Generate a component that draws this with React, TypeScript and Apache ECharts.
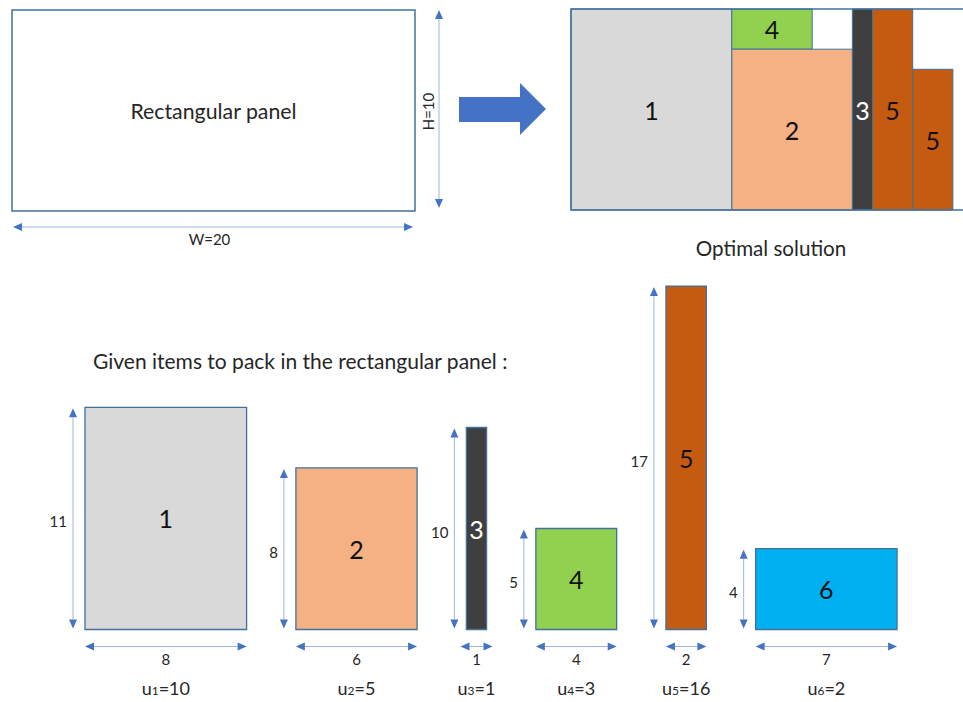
import React, { useEffect, useRef } from "react";
import * as echarts from "echarts";

// Panel
const PANEL_W = 20;
const PANEL_H = 10;
const panelTitle = "Rectangular panel";
const solutionTitle = "Optimal solution";
const itemsTitle = "Given items to pack in the rectangular panel :";

// Items to pack
const itemIds = ["1", "2", "3", "4", "5", "6"];
const itemWidths = [8, 6, 1, 4, 2, 7];
const itemHeights = [11, 8, 10, 5, 17, 4];
const itemValues = [10, 5, 1, 3, 16, 2];
const itemColors = ["#D9D9D9", "#F4B183", "#3F3F3F", "#92D050", "#C55A11", "#00B0F0"];
const itemLabelColors = ["#111111", "#111111", "#FFFFFF", "#111111", "#111111", "#111111"];

// Optimal solution placement (panel units, origin at top-left)
const solItem = [0, 3, 1, 2, 4, 4];
const solX = [0, 8, 8, 14, 15, 17];
const solY = [0, 0, 2, 0, 0, 3];
const solW = [8, 4, 6, 1, 2, 2];
const solH = [10, 2, 8, 10, 10, 7];

const FONT = "Lato, 'Open Sans', sans-serif";
const BORDER = "#41719C";
const ARROW_LINE = "#9DB5DF";
const ARROW_HEAD = "#4472C4";
const TEXT = "#262626";

function vArrow(x: number, y1: number, y2: number) {
  const hw = 4, hl = 9;
  return [
    { type: "line", shape: { x1: x, y1: y1 + hl, x2: x, y2: y2 - hl }, style: { stroke: ARROW_LINE, lineWidth: 1 } },
    { type: "polygon", shape: { points: [[x, y1], [x - hw, y1 + hl], [x + hw, y1 + hl]] }, style: { fill: ARROW_HEAD } },
    { type: "polygon", shape: { points: [[x, y2], [x - hw, y2 - hl], [x + hw, y2 - hl]] }, style: { fill: ARROW_HEAD } },
  ];
}
function hArrow(y: number, x1: number, x2: number) {
  const hw = 4, hl = 9;
  return [
    { type: "line", shape: { x1: x1 + hl, y1: y, x2: x2 - hl, y2: y }, style: { stroke: ARROW_LINE, lineWidth: 1 } },
    { type: "polygon", shape: { points: [[x1, y], [x1 + hl, y - hw], [x1 + hl, y + hw]] }, style: { fill: ARROW_HEAD } },
    { type: "polygon", shape: { points: [[x2, y], [x2 - hl, y - hw], [x2 - hl, y + hw]] }, style: { fill: ARROW_HEAD } },
  ];
}
function txt(x: number, y: number, text: string, size: number, fill = TEXT, extra: any = {}) {
  return {
    type: "text",
    x,
    y,
    ...extra,
    style: { text, fill, fontSize: size, fontFamily: FONT, align: "center", verticalAlign: "middle" },
  };
}

export default function App() {
  const ref = useRef<HTMLDivElement>(null);
  useEffect(() => {
    document.body.style.margin = "0";
    const chart = echarts.init(ref.current!, null, { renderer: "svg" });

    // bottom row layout: cumulative x positions with constant gap (units)
    const GAP = 2.44;
    const itemX: number[] = [];
    let acc = 0;
    itemWidths.forEach((w) => {
      itemX.push(acc);
      acc += w + GAP;
    });
    const UNIT = 20.2;
    const rowMax = 41;
    const rowTopUnits = 17;
    const SOL_UNIT = 20.1;
    const solVisible = 19.5; // panel is cut at the right edge of the picture

    const option: any = {
      animation: false,
      backgroundColor: "#ffffff",
      grid: [
        { left: 12, top: 10, width: 403, height: 201, show: false },
        { left: 571, top: 9, width: solVisible * SOL_UNIT, height: PANEL_H * SOL_UNIT, show: false },
        { left: 85, top: 629.5 - rowTopUnits * UNIT, width: rowMax * UNIT, height: rowTopUnits * UNIT, show: false },
      ],
      xAxis: [
        { type: "value", gridIndex: 0, min: 0, max: PANEL_W, show: false },
        { type: "value", gridIndex: 1, min: 0, max: solVisible, show: false },
        { type: "value", gridIndex: 2, min: 0, max: rowMax, show: false },
      ],
      yAxis: [
        { type: "value", gridIndex: 0, min: 0, max: PANEL_H, inverse: true, show: false },
        { type: "value", gridIndex: 1, min: 0, max: PANEL_H, inverse: true, show: false },
        { type: "value", gridIndex: 2, min: 0, max: rowTopUnits, show: false },
      ],
      series: [
        {
          type: "custom",
          xAxisIndex: 0,
          yAxisIndex: 0,
          clip: false,
          data: [[0, 0, PANEL_W, PANEL_H]],
          renderItem: (params: any, api: any) => {
            const p0 = api.coord([api.value(0), api.value(1)]);
            const p1 = api.coord([api.value(2), api.value(3)]);
            const cx = (p0[0] + p1[0]) / 2;
            const cy = (p0[1] + p1[1]) / 2;
            return {
              type: "group",
              children: [
                { type: "rect", shape: { x: p0[0], y: p0[1], width: p1[0] - p0[0], height: p1[1] - p0[1] }, style: { fill: "#fff", stroke: BORDER, lineWidth: 1.5 } },
                txt(cx, cy, panelTitle, 21.3),
                ...vArrow(p1[0] + 24, p0[1], p1[1] - 3),
                txt(p1[0] + 13, cy + 1, `H=${api.value(3)}`, 15, TEXT, { rotation: Math.PI / 2 }),
                ...hArrow(p1[1] + 16, p0[0] + 1, p1[0] - 2),
                txt(cx - 4, p1[1] + 28, `W=${api.value(2)}`, 15),
              ],
            };
          },
        },
        {
          type: "custom",
          xAxisIndex: 1,
          yAxisIndex: 1,
          clip: false,
          data: solItem.map((it, i) => [solX[i], solY[i], solW[i], solH[i], it]),
          renderItem: (params: any, api: any) => {
            const it = api.value(4);
            const p0 = api.coord([api.value(0), api.value(1)]);
            const p1 = api.coord([api.value(0) + api.value(2), api.value(1) + api.value(3)]);
            return {
              type: "group",
              children: [
                { type: "rect", shape: { x: p0[0], y: p0[1], width: p1[0] - p0[0], height: p1[1] - p0[1] }, style: { fill: itemColors[it], stroke: BORDER, lineWidth: 1 } },
                txt((p0[0] + p1[0]) / 2, (p0[1] + p1[1]) / 2, itemIds[it], 25, itemLabelColors[it]),
              ],
            };
          },
        },
        {
          type: "custom",
          xAxisIndex: 1,
          yAxisIndex: 1,
          clip: false,
          data: [[0, 0, PANEL_W, PANEL_H]],
          renderItem: (params: any, api: any) => {
            const p0 = api.coord([api.value(0), api.value(1)]);
            const p1 = api.coord([api.value(2), api.value(3)]);
            return {
              type: "group",
              children: [
                { type: "rect", shape: { x: p0[0], y: p0[1], width: p1[0] - p0[0], height: p1[1] - p0[1] }, style: { fill: "none", stroke: BORDER, lineWidth: 1.5 } },
                txt(771, p1[1] + 38, solutionTitle, 20.6),
              ],
            };
          },
        },
        {
          type: "custom",
          xAxisIndex: 2,
          yAxisIndex: 2,
          clip: false,
          data: itemIds.map((id, i) => [itemX[i], itemWidths[i], itemHeights[i], itemValues[i]]),
          renderItem: (params: any, api: any) => {
            const i = params.dataIndex;
            const x = api.value(0), w = api.value(1), h = api.value(2), u = api.value(3);
            const p0 = api.coord([x, h]);
            const p1 = api.coord([x + w, 0]);
            const cx = (p0[0] + p1[0]) / 2;
            const cy = (p0[1] + p1[1]) / 2;
            const ax = p0[0] - 12;
            const hw = Math.max(p1[0] - p0[0], 32);
            return {
              type: "group",
              children: [
                { type: "rect", shape: { x: p0[0], y: p0[1], width: p1[0] - p0[0], height: p1[1] - p0[1] }, style: { fill: itemColors[i], stroke: BORDER, lineWidth: 1.3 } },
                txt(cx, cy, itemIds[i], 25, itemLabelColors[i]),
                ...vArrow(ax, p0[1] + 1, p1[1] - 1),
                { type: "text", x: ax - 6, y: cy + 3, style: { text: String(h), fill: TEXT, fontSize: 15, fontFamily: FONT, align: "right", verticalAlign: "middle" } },
                ...hArrow(p1[1] + 17, cx - hw / 2, cx + hw / 2),
                txt(cx, p1[1] + 29, String(w), 15),
                {
                  type: "text",
                  x: cx,
                  y: p1[1] + 58,
                  style: {
                    text: `{a|u}{b|${itemIds[i]}}{a|=${u}}`,
                    align: "center",
                    verticalAlign: "middle",
                    rich: {
                      a: { fontSize: 18, fontFamily: FONT, fill: TEXT, color: TEXT, lineHeight: 18, verticalAlign: "bottom" },
                      b: { fontSize: 12, fontFamily: FONT, fill: TEXT, color: TEXT, lineHeight: 7, verticalAlign: "bottom" },
                    },
                  },
                },
              ],
            };
          },
        },
      ],
      graphic: [
        {
          type: "polygon",
          shape: { points: [[459, 97], [520, 97], [520, 83], [546, 109], [520, 135], [520, 122], [459, 122]] },
          style: { fill: "#4472C4" },
        },
        {
          type: "text",
          left: 93,
          top: 350,
          style: { text: itemsTitle, fill: TEXT, fontSize: 21, fontFamily: FONT },
        },
      ],
    };
    chart.setOption(option);
    return () => chart.dispose();
  }, []);
  return <div ref={ref} style={{ width: 963, height: 702 }} />;
}
